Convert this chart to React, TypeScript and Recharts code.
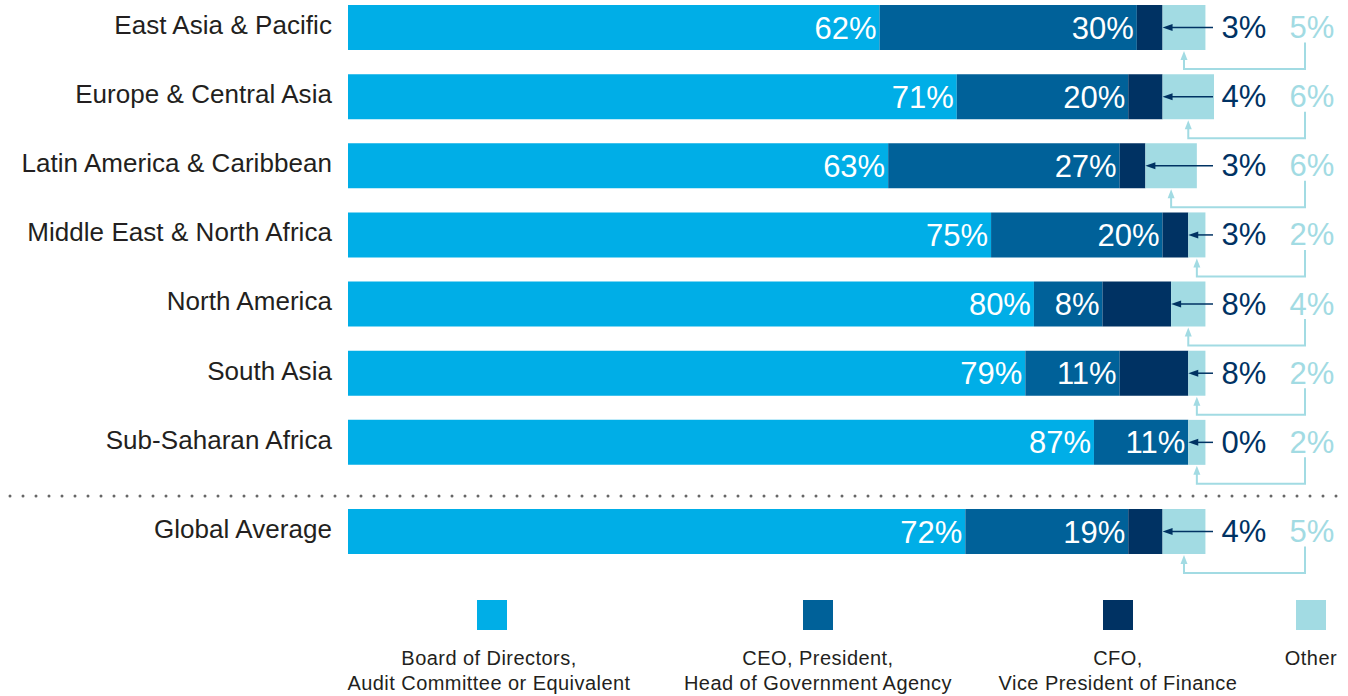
import { BarChart, Bar, XAxis, YAxis, LabelList } from "recharts";

// Reporting line of the head of internal audit, by region
const regions = [
  "East Asia & Pacific",
  "Europe & Central Asia",
  "Latin America & Caribbean",
  "Middle East & North Africa",
  "North America",
  "South Asia",
  "Sub-Saharan Africa",
  "Global Average",
];
const boardValues = [62, 71, 63, 75, 80, 79, 87, 72];
const ceoValues = [30, 20, 27, 20, 8, 11, 11, 19];
const cfoValues = [3, 4, 3, 3, 8, 8, 0, 4];
const otherValues = [5, 6, 6, 2, 4, 2, 2, 5];

const seriesNames = [
  ["Board of Directors,", "Audit Committee or Equivalent"],
  ["CEO, President,", "Head of Government Agency"],
  ["CFO,", "Vice President of Finance"],
  ["Other"],
];

const COLORS = ["#00aee7", "#006199", "#003263", "#a2dbe3"];
const FONT = "'Liberation Sans', Arial, sans-serif";

const rows = regions.map((name, i) => ({
  name,
  board: boardValues[i],
  ceo: ceoValues[i],
  cfo: cfoValues[i],
  other: otherValues[i],
}));
const regionRows = rows.slice(0, 7);
const globalRows = rows.slice(7);

const getBox = (props: any) =>
  props.viewBox && props.viewBox.width !== undefined ? props.viewBox : props;

// Both outside values hang off the "Other" segment: CFO arrow points at its
// left edge (end of the CFO segment, even when CFO is 0), Other gets an elbow
// connector running underneath the bar.
const makeCallouts = (data: any[]) => (props: any) => {
  const { x, y, width, height } = getBox(props);
  const row = data[props.index];
  const cy = y + height / 2;
  const bottom = y + height;
  const mid = x + width / 2;
  const low = bottom + 19;
  return (
    <g>
      <line x1={1213} x2={x + 8} y1={cy} y2={cy} stroke={COLORS[2]} strokeWidth={1.5} />
      <polygon points={`${x},${cy} ${x + 10},${cy - 3.5} ${x + 10},${cy + 3.5}`} fill={COLORS[2]} />
      <text x={1244} y={cy} textAnchor="middle" dominantBaseline="central" fill={COLORS[2]} fontSize={31} fontFamily={FONT}>
        {row.cfo}%
      </text>
      <path d={`M1305,${cy + 15} V${low} H${mid} V${bottom + 9}`} fill="none" stroke={COLORS[3]} strokeWidth={2} />
      <polygon points={`${mid},${bottom + 1} ${mid - 3.5},${bottom + 10} ${mid + 3.5},${bottom + 10}`} fill={COLORS[3]} />
      <text x={1312} y={cy} textAnchor="middle" dominantBaseline="central" fill={COLORS[3]} fontSize={31} fontFamily={FONT}>
        {row.other}%
      </text>
    </g>
  );
};

const pct = (v: any) => `${v}%`;

const StackedRows = ({ data, height }: { data: any[]; height: number }) => (
  <BarChart
    width={1348}
    height={height}
    data={data}
    layout="vertical"
    margin={{ top: 0, right: 134, bottom: 30, left: 0 }}
  >
    <XAxis type="number" domain={[0, 101]} hide />
    <YAxis
      type="category"
      dataKey="name"
      width={348}
      axisLine={false}
      tickLine={false}
      tickSize={0}
      tickMargin={16}
      tick={{ fill: "#231f20", fontSize: 26, fontFamily: FONT, letterSpacing: 0.05, dy: -3 }}
    />
    <Bar dataKey="board" stackId="a" fill={COLORS[0]} barSize={45} isAnimationActive={false}>
      <LabelList dataKey="board" position="insideRight" offset={3} fill="#fff" fontSize={31} fontFamily={FONT} formatter={pct} />
    </Bar>
    <Bar dataKey="ceo" stackId="a" fill={COLORS[1]} barSize={45} isAnimationActive={false}>
      <LabelList dataKey="ceo" position="insideRight" offset={3} fill="#fff" fontSize={31} fontFamily={FONT} formatter={pct} />
    </Bar>
    <Bar dataKey="cfo" stackId="a" fill={COLORS[2]} barSize={45} isAnimationActive={false} />
    <Bar dataKey="other" stackId="a" fill={COLORS[3]} barSize={45} isAnimationActive={false}>
      <LabelList dataKey="other" content={makeCallouts(data)} />
    </Bar>
  </BarChart>
);

const legendCenters = [489, 818, 1118, 1311];

export default function App() {
  return (
    <div style={{ position: "absolute", left: 0, top: 0, width: 1348, height: 696, overflow: "hidden", fontFamily: FONT }}>
      <div style={{ position: "absolute", left: 0, top: -7 }}>
        <StackedRows data={regionRows} height={514} />
      </div>
      <svg style={{ position: "absolute", left: 0, top: 490 }} width={1348} height={12}>
        <line x1={10} x2={1342} y1={6} y2={6} stroke="#666" strokeWidth={3} strokeDasharray="0 13" strokeLinecap="round" />
      </svg>
      <div style={{ position: "absolute", left: 0, top: 500 }}>
        <StackedRows data={globalRows} height={93} />
      </div>
      {seriesNames.map((lines, i) => (
        <div key={i}>
          <div
            style={{
              position: "absolute",
              left: [492, 818, 1118, 1311][i] - 15,
              top: 600,
              width: 30,
              height: 30,
              background: COLORS[i],
            }}
          />
          <div
            style={{
              position: "absolute",
              left: legendCenters[i] - 200,
              width: 400,
              top: 646,
              textAlign: "center",
              fontSize: 20,
              letterSpacing: 0.45,
              lineHeight: "25px",
              color: "#231f20",
            }}
          >
            {lines.map((l) => (
              <div key={l}>{l}</div>
            ))}
          </div>
        </div>
      ))}
    </div>
  );
}
